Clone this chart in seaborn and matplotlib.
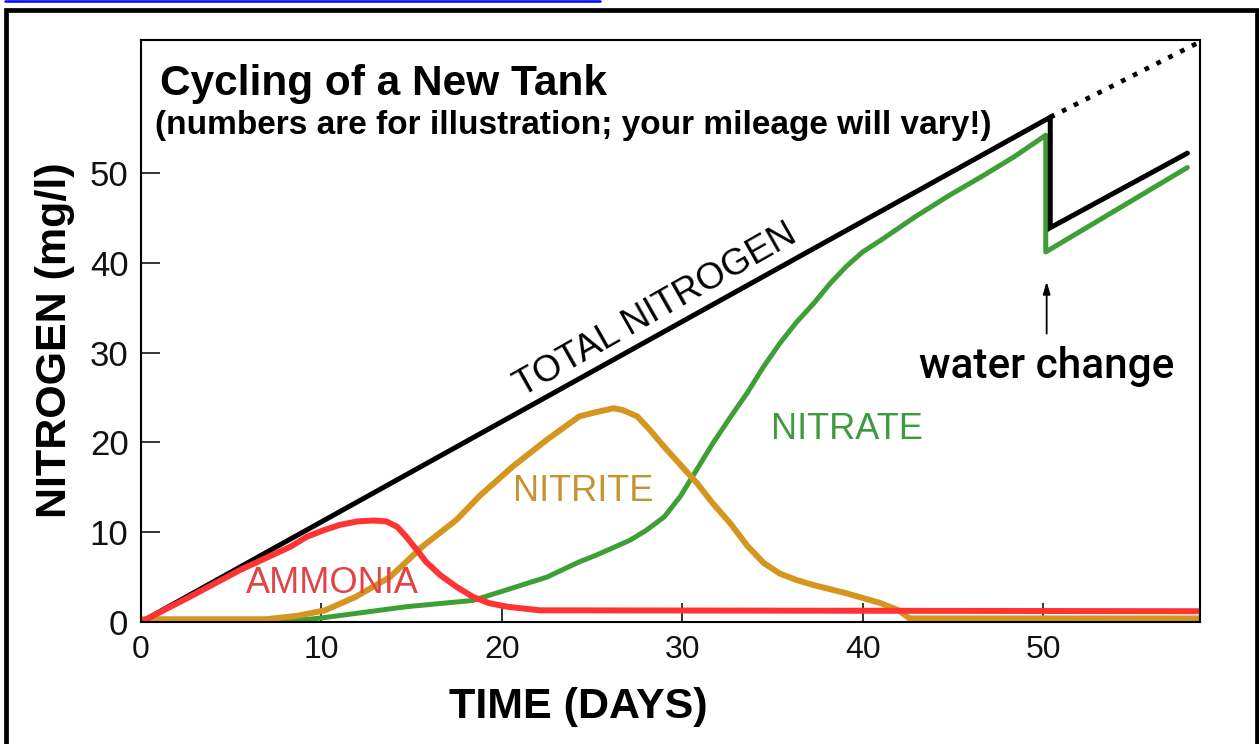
import matplotlib
matplotlib.use("Agg")
import matplotlib.pyplot as plt
import seaborn as sns
from matplotlib.patches import Rectangle
from matplotlib.lines import Line2D

# ---------------- data ----------------
total_days = [0, 50.4, 50.4, 58.0]
total_vals = [0, 56.2, 43.9, 52.2]
projected_days = [50.4, 58.7]
projected_vals = [56.2, 64.6]

ammonia_days = [0, 2.7, 5.5, 8.3, 9.2, 10.1, 11.0, 12.0, 12.9, 13.6, 14.2, 14.7, 15.3, 15.8, 16.6,
                17.5, 18.4, 19.3, 20.3, 22.1, 58.7]
ammonia_vals = [0, 2.8, 5.8, 8.4, 9.5, 10.2, 10.8, 11.2, 11.3, 11.2, 10.6, 9.5, 8.0, 6.7, 5.2,
                3.9, 2.8, 2.1, 1.7, 1.3, 1.2]

nitrite_days = [0, 6.9, 8.7, 10.2, 11.9, 13.8, 15.6, 17.5, 18.8, 20.6, 22.5, 24.3, 25.3, 26.2, 26.7,
                27.5, 28.2, 29.0, 29.9, 30.8, 31.7, 32.7, 33.6, 34.5, 35.4, 36.3, 37.3, 39.1,
                41.0, 42.0, 42.6, 58.7]
nitrite_vals = [0.3, 0.3, 0.7, 1.3, 2.8, 5.0, 8.4, 11.4, 14.1, 17.3, 20.3, 22.9, 23.4, 23.8, 23.6,
                22.9, 21.4, 19.5, 17.5, 15.5, 13.2, 10.9, 8.5, 6.6, 5.4, 4.7, 4.1, 3.2,
                2.1, 1.3, 0.4, 0.4]

nitrate_days = [0, 9.3, 10.2, 14.7, 18.4, 20.3, 22.5, 24.3, 25.3, 27.1, 28.0, 29.0, 29.9, 31.7,
                32.7, 33.6, 34.5, 35.4, 36.3, 37.3, 38.2, 39.1, 40.0, 41.0, 42.9, 44.8, 46.6,
                48.4, 50.15, 50.15, 58.0]
nitrate_vals = [0.3, 0.3, 0.5, 1.7, 2.4, 3.6, 5.0, 6.7, 7.5, 9.1, 10.2, 11.7, 14.0, 19.9,
                22.9, 25.5, 28.4, 31.0, 33.3, 35.5, 37.7, 39.6, 41.2, 42.5, 45.1, 47.5, 49.6,
                51.8, 54.2, 41.2, 50.6]

x_ticks = [0, 10, 20, 30, 40, 50]
y_ticks = [0, 10, 20, 30, 40, 50]

title = "Cycling of a New Tank"
subtitle = "(numbers are for illustration; your mileage will vary!)"
x_label = "TIME (DAYS)"
y_label = "NITROGEN (mg/l)"

# ---------------- style ----------------
sns.set_theme(style="white")
plt.rcParams["font.family"] = ["Liberation Sans", "DejaVu Sans"]

BLACK = "#000000"
RED = "#FF3333"
ORANGE = "#D4961E"
GREEN = "#3F9F37"

W, H = 1259, 744
fig = plt.figure(figsize=(W / 100, H / 100), dpi=100)
fig.patch.set_facecolor("white")
ax = fig.add_axes([141 / W, 1 - 622 / H, 1059 / W, 582 / H])
ax.set_facecolor("white")


def draw(days, vals, color, lw, **kw):
    sns.lineplot(x=days, y=vals, ax=ax, color=color, linewidth=lw,
                 estimator=None, sort=False, legend=False, **kw)


draw(nitrate_days, nitrate_vals, GREEN, 3.6)
draw(total_days, total_vals, BLACK, 3.6, solid_joinstyle="miter")
draw(projected_days, projected_vals, BLACK, 3.4, linestyle=(0, (1.0, 1.8)), dash_capstyle="butt")
draw(nitrite_days, nitrite_vals, ORANGE, 4.3)
draw(ammonia_days, ammonia_vals, RED, 4.3)

ax.set_xlim(0, 58.7)
ax.set_ylim(0, 64.8)
ax.set_xticks(x_ticks)
ax.set_yticks(y_ticks)
ax.set_xticklabels([str(v) for v in x_ticks])
ax.set_yticklabels([str(v) for v in y_ticks])
ax.tick_params(axis="both", direction="in", length=14, width=1.1, color="black",
               labelcolor="#111111", bottom=True, left=True, top=False, right=False)
ax.tick_params(axis="x", labelsize=23, pad=9)
ax.tick_params(axis="y", labelsize=25, pad=9)
for s in ax.spines.values():
    s.set_visible(True)
    s.set_color("black")
    s.set_linewidth(1.5)

ax.set_xlabel(x_label, fontsize=31, fontweight="bold", color="black")
ax.xaxis.set_label_coords(0.413, -0.146)
ax.xaxis.label.set_va("center")
ax.set_ylabel(y_label, fontsize=31, fontweight="bold", color="black")
ax.yaxis.set_label_coords(-0.081, 0.485)
ax.yaxis.label.set_va("center")

# titles inside the axes
ax.text(0.018, 0.905, title, transform=ax.transAxes, fontsize=30.5, fontweight="bold",
        ha="left", va="baseline", color="black")
ax.text(0.013, 0.838, subtitle, transform=ax.transAxes, fontsize=24, fontweight="bold",
        ha="left", va="baseline", color="black")

# series labels
ax.text(5.8, 4.3, "AMMONIA", color="#E04444", fontsize=26, ha="left", va="center")
ax.text(20.6, 14.5, "NITRITE", color="#C8922E", fontsize=26, ha="left", va="center")
ax.text(34.9, 21.4, "NITRATE", color="#3E9A3E", fontsize=26, ha="left", va="center")
ax.text(28.5, 34.7, "TOTAL NITROGEN", color="black", fontsize=26.5, ha="center", va="center",
        rotation=29.5, rotation_mode="anchor")

ax.text(43.1, 27.2, "water change", color="black", fontsize=30.5, ha="left", va="baseline",
        family=["Roboto", "Liberation Sans"], fontweight="medium")
ax.annotate("", xy=(50.2, 38.2), xytext=(50.2, 31.8),
            arrowprops=dict(arrowstyle="-|>,head_length=0.6,head_width=0.18", color="black", lw=1.3))

# outer frame and link underline
fig.patches.append(Rectangle((5.5 / W, -0.1), 1251 / W, 1.1 - 10 / H, transform=fig.transFigure,
                             fill=False, edgecolor="black", linewidth=3.4))
fig.lines.append(Line2D([5 / W, 600 / W], [1 - 1.2 / H, 1 - 1.2 / H], transform=fig.transFigure,
                        color="#0000FF", linewidth=1.8))

fig.savefig("out.png", dpi=100)
